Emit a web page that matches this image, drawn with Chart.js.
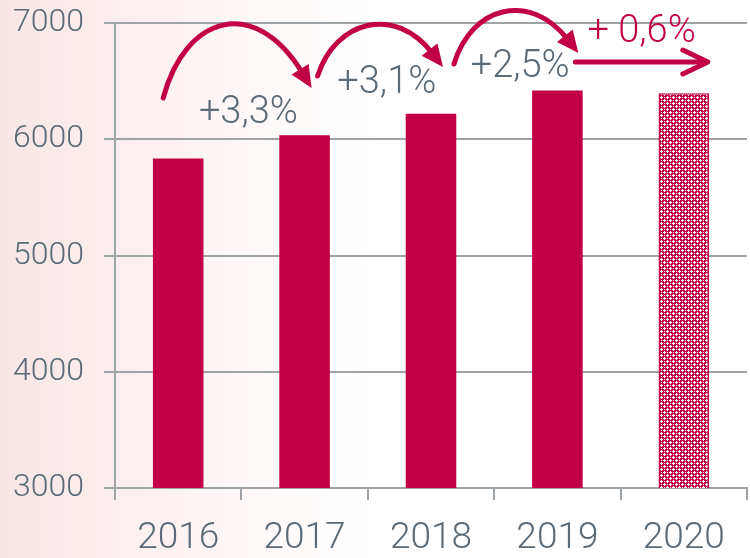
<!DOCTYPE html>
<html>
<head>
<meta charset="utf-8">
<script src="https://cdn.jsdelivr.net/npm/chart.js@4"></script>
<style>
  html, body { margin:0; padding:0; }
  body { width:750px; height:558px; background: linear-gradient(90deg, #f9e5e6 0%, #fbecec 12%, #fdf4f4 26%, #fefafa 38%, #ffffff 50%, #ffffff 100%); }
  #wrap { position:relative; width:750px; height:558px; }
</style>
</head>
<body>
<div id="wrap"><canvas id="c"></canvas></div>
<script>
const years = ['2016', '2017', '2018', '2019', '2020'];
const values = [5835, 6035, 6220, 6420, 6395];
const growthLabels = ['+3,3%', '+3,1%', '+2,5%', '+ 0,6%'];
const yTicks = [3000, 4000, 5000, 6000, 7000];

const CRIMSON = '#c20045';
const GRID = '#9ea3a8';
const TEXT = '#5a6a77';
const FONT = 'Roboto';

function makePattern() {
  const p = document.createElement('canvas');
  p.width = 6; p.height = 6;
  const g = p.getContext('2d');
  g.fillStyle = CRIMSON; g.fillRect(0, 0, 6, 6);
  g.fillStyle = '#ffffff';
  const plus = (x, y) => { g.fillRect(x, y - 1, 1, 3); g.fillRect(x - 1, y, 3, 1); };
  plus(1, 1); plus(4, 4);
  g.fillRect(4, 1, 1, 1); g.fillRect(1, 4, 1, 1);
  return g.createPattern(p, 'repeat');
}
const pattern = makePattern();

// arrow decorations (offsets relative to category centres / chart top)
const curveArrows = [
  { a: 0, b: 1, s: [-15, 75], e: [7, 65],  c1: [22, -83], c2: [-57, -93] },
  { a: 1, b: 2, s: [13, 53],  e: [12, 44], c1: [18, -56], c2: [-48, -62] },
  { a: 2, b: 3, s: [23, 41],  e: [21, 30], c1: [18, -59], c2: [-48, -61] }
];
const labelPos = [[7, 90, TEXT], [19, 60, TEXT], [26, 44, TEXT], [21, 9, CRIMSON]];

const arrowPlugin = {
  id: 'arrows',
  afterDatasetsDraw(chart) {
    const ctx = chart.ctx;
    const meta = chart.getDatasetMeta(0);
    const cx = meta.data.map(d => d.x);
    const top = chart.chartArea.top;
    ctx.save();
    ctx.strokeStyle = CRIMSON;
    ctx.fillStyle = CRIMSON;
    ctx.lineWidth = 5;
    ctx.lineCap = 'round';
    curveArrows.forEach(ar => {
      const p0 = [cx[ar.a] + ar.s[0], top + ar.s[1]];
      const p3 = [cx[ar.b] + ar.e[0], top + ar.e[1]];
      const p1 = [p0[0] + ar.c1[0], p0[1] + ar.c1[1]];
      const p2 = [p3[0] + ar.c2[0], p3[1] + ar.c2[1]];
      let dx = p3[0] - p2[0], dy = p3[1] - p2[1];
      const L = Math.hypot(dx, dy); dx /= L; dy /= L;
      const hl = 22, hw = 10;
      const base = [p3[0] - dx * hl, p3[1] - dy * hl];
      ctx.beginPath();
      ctx.moveTo(p0[0], p0[1]);
      ctx.bezierCurveTo(p1[0], p1[1], p2[0], p2[1], base[0] + dx * 4, base[1] + dy * 4);
      ctx.stroke();
      ctx.beginPath();
      ctx.moveTo(p3[0], p3[1]);
      ctx.lineTo(base[0] - dy * hw, base[1] + dx * hw);
      ctx.lineTo(base[0] + dy * hw, base[1] - dx * hw);
      ctx.closePath();
      ctx.fill();
    });
    // straight arrow for 2019 -> 2020
    const y4 = top + 39;
    const x0 = cx[3] + 18, x1 = cx[4] + 24;
    ctx.beginPath();
    ctx.moveTo(x0, y4); ctx.lineTo(x1 - 2, y4);
    ctx.stroke();
    ctx.lineJoin = 'round';
    ctx.beginPath();
    ctx.moveTo(x1 - 25, y4 - 12);
    ctx.lineTo(x1, y4);
    ctx.lineTo(x1 - 25, y4 + 12);
    ctx.stroke();
    // labels
    ctx.font = '300 38px ' + FONT;
    ctx.textAlign = 'center';
    ctx.textBaseline = 'middle';
    growthLabels.forEach((t, i) => {
      const lp = labelPos[i];
      ctx.fillStyle = lp[2];
      ctx.fillText(t, (cx[i] + cx[i + 1]) / 2 + lp[0], top + lp[1]);
    });
    ctx.restore();
  }
};

new Chart(document.getElementById('c'), {
  type: 'bar',
  data: {
    labels: years,
    datasets: [{
      data: values,
      backgroundColor: values.map((v, i) => i === values.length - 1 ? pattern : CRIMSON),
      borderColor: CRIMSON,
      borderWidth: values.map((v, i) => i === values.length - 1 ? 1.5 : 0),
      categoryPercentage: 1,
      barPercentage: 0.4
    }]
  },
  options: {
    responsive: true,
    maintainAspectRatio: false,
    animation: false,
    devicePixelRatio: 1,
    layout: { padding: { top: 23, right: 3, left: 0, bottom: 0 } },
    plugins: { legend: { display: false }, tooltip: { enabled: false } },
    scales: {
      x: {
        grid: { display: true, drawOnChartArea: false, drawTicks: true, tickLength: 12, color: GRID, lineWidth: 2, offset: true },
        border: { display: true, color: GRID, width: 2 },
        ticks: { color: TEXT, font: { family: FONT, size: 37, weight: '300' }, padding: 17 },
        afterFit: s => { s.height = 70; s.paddingLeft = 0; s.paddingRight = 0; }
      },
      y: {
        min: 3000, max: 7000,
        afterBuildTicks: s => { s.ticks = yTicks.map(v => ({ value: v })); },
        grid: { color: GRID, lineWidth: 2, tickLength: 11, drawTicks: true },
        border: { display: true, color: GRID, width: 2 },
        ticks: { color: TEXT, font: { family: FONT, size: 32, weight: '300' }, padding: 20, callback: v => String(v) },
        afterFit: s => { s.width = 115; s.paddingTop = 0; s.paddingBottom = 0; }
      }
    }
  },
  plugins: [arrowPlugin]
});
</script>
</body>
</html>
